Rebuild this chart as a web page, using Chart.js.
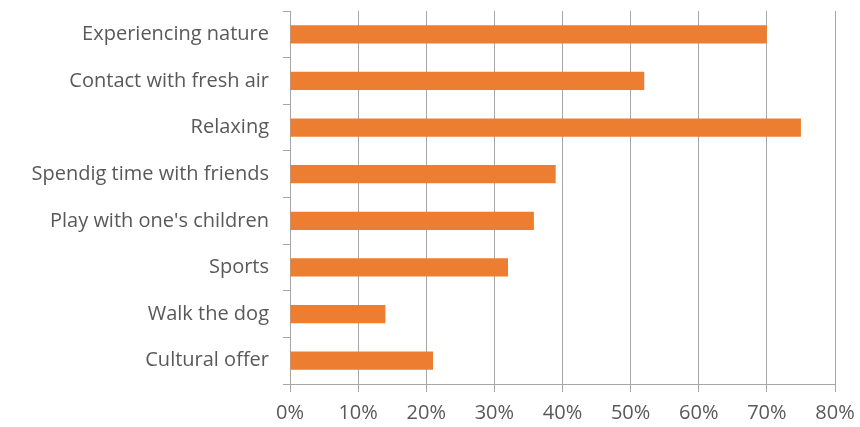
<!DOCTYPE html>
<html>
<head>
<meta charset="utf-8">
<script src="https://cdn.jsdelivr.net/npm/chart.js@4"></script>
<style>
  html, body { margin: 0; padding: 0; background: #fff; }
  #chart { display: block; }
</style>
</head>
<body>
<canvas id="chart" width="860" height="427"></canvas>
<script>
const categories = [
  "Experiencing nature",
  "Contact with fresh air",
  "Relaxing",
  "Spendig time with friends",
  "Play with one's children",
  "Sports",
  "Walk the dog",
  "Cultural offer"
];
const shares = [70, 52, 75, 39, 35.8, 32, 14, 21];

const gridColor = "#a6a6a6";
const textColor = "#595959";
const labelFont = { family: "'Open Sans', 'Liberation Sans', sans-serif", size: 20 };

const ctx = document.getElementById("chart").getContext("2d");
new Chart(ctx, {
  type: "bar",
  data: {
    labels: categories,
    datasets: [{
      data: shares,
      backgroundColor: "#ED7D31",
      borderWidth: 0,
      barPercentage: 0.39,
      categoryPercentage: 1
    }]
  },
  options: {
    indexAxis: "y",
    responsive: false,
    animation: false,
    layout: { padding: { top: 11, right: 25, bottom: 0, left: 0 } },
    plugins: {
      legend: { display: false },
      tooltip: { enabled: false }
    },
    scales: {
      x: {
        min: 0,
        max: 80,
        afterFit: s => {
          s.height = 43;
          s.paddingLeft = 0;
          s.paddingRight = 0;
        },
        ticks: {
          stepSize: 10,
          color: textColor,
          font: labelFont,
          padding: 9,
          callback: v => v + "%"
        },
        grid: { color: gridColor, lineWidth: 1, tickLength: 8 },
        border: { display: true, color: gridColor }
      },
      y: {
        offset: true,
        afterFit: s => {
          s.width = 290;
          s.paddingTop = 0;
          s.paddingBottom = 0;
        },
        ticks: { color: textColor, font: labelFont, padding: 14 },
        grid: { drawOnChartArea: false, color: gridColor, tickLength: 7, offset: true },
        border: { display: true, color: gridColor }
      }
    }
  }
});
</script>
</body>
</html>
